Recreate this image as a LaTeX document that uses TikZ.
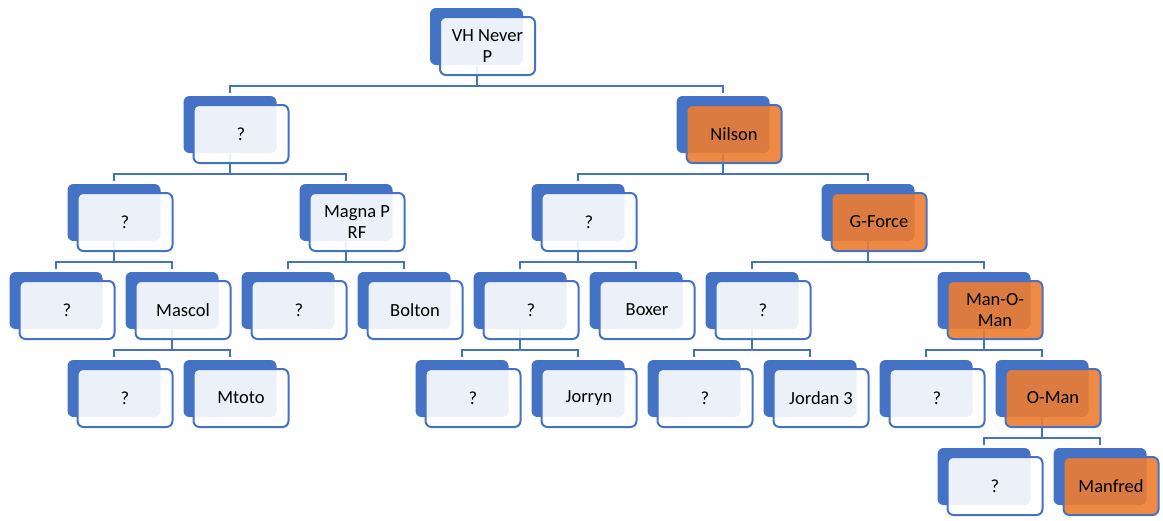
\documentclass[tikz,border=0pt]{standalone}
\usepackage{fontspec}
\setmainfont{Carlito}
\usetikzlibrary{calc}
\pgfdeclarelayer{bg}
\pgfsetlayers{bg,main}

\definecolor{accentblue}{HTML}{4472C4}
\definecolor{accentorange}{HTML}{ED7D31}

\tikzset{
  backbox/.style={fill=accentblue, draw=none, rounded corners=6pt,
    minimum width=93pt, minimum height=57pt, inner sep=0pt, outer sep=0pt},
  frontbox/.style={draw=accentblue, line width=2pt, fill opacity=0.9, text opacity=1,
    rounded corners=6pt, minimum width=95pt, minimum height=58pt,
    inner sep=0pt, outer sep=0pt, align=center, text=black,
    font=\fontsize{18.5}{21}\selectfont},
  conn/.style={draw=accentblue, line width=2pt}
}

% a two-layer box: blue card behind, translucent card in front
\newcommand{\orgnode}[5]{%
  \node[backbox] (#1B) at (#2,#3) {};
  \node[frontbox, fill=#5] (#1) at ($(#1B.center)+(11,9.5)$) {#4};
}
% elbow connector from a parent card to a child card
\newcommand{\orglink}[2]{%
  \draw[conn] (#1B.south) |- ([yshift=10pt]#2B.north) -- ([yshift=3pt]#2B.north);
}

\begin{document}
\begin{tikzpicture}[x=1pt, y=-1pt]
\useasboundingbox (0,0) rectangle (1163,520);

% level 0
\orgnode{root}{476.5}{36.5}{VH Never\\P}{white}
% level 1
\orgnode{a}{230}{124.5}{?}{white}
\orgnode{n}{723}{124.5}{Nilson}{accentorange}
% level 2
\orgnode{b}{114}{212.5}{?}{white}
\orgnode{mg}{346}{212.5}{Magna P\\RF}{white}
\orgnode{c}{578}{212.5}{?}{white}
\orgnode{g}{868}{212.5}{G-Force}{accentorange}
% level 3
\orgnode{d}{56}{300.5}{?}{white}
\orgnode{ms}{172}{300.5}{Mascol}{white}
\orgnode{e}{288}{300.5}{?}{white}
\orgnode{bo}{404}{300.5}{Bolton}{white}
\orgnode{f}{520}{300.5}{?}{white}
\orgnode{bx}{636}{300.5}{Boxer}{white}
\orgnode{h}{752}{300.5}{?}{white}
\orgnode{mom}{984}{300.5}{Man-O-\\Man}{accentorange}
% level 4
\orgnode{i}{114}{388.5}{?}{white}
\orgnode{mt}{230}{388.5}{Mtoto}{white}
\orgnode{j}{462}{388.5}{?}{white}
\orgnode{jo}{578}{388.5}{Jorryn}{white}
\orgnode{k}{694}{388.5}{?}{white}
\orgnode{jt}{810}{388.5}{Jordan 3}{white}
\orgnode{l}{926}{388.5}{?}{white}
\orgnode{om}{1042}{388.5}{O-Man}{accentorange}
% level 5
\orgnode{m}{984}{476.5}{?}{white}
\orgnode{mf}{1100}{476.5}{Manfred}{accentorange}

\begin{pgfonlayer}{bg}
\orglink{root}{a}\orglink{root}{n}
\orglink{a}{b}\orglink{a}{mg}
\orglink{n}{c}\orglink{n}{g}
\orglink{b}{d}\orglink{b}{ms}
\orglink{mg}{e}\orglink{mg}{bo}
\orglink{c}{f}\orglink{c}{bx}
\orglink{g}{h}\orglink{g}{mom}
\orglink{ms}{i}\orglink{ms}{mt}
\orglink{f}{j}\orglink{f}{jo}
\orglink{h}{k}\orglink{h}{jt}
\orglink{mom}{l}\orglink{mom}{om}
\orglink{om}{m}\orglink{om}{mf}
\end{pgfonlayer}
\end{tikzpicture}
\end{document}
